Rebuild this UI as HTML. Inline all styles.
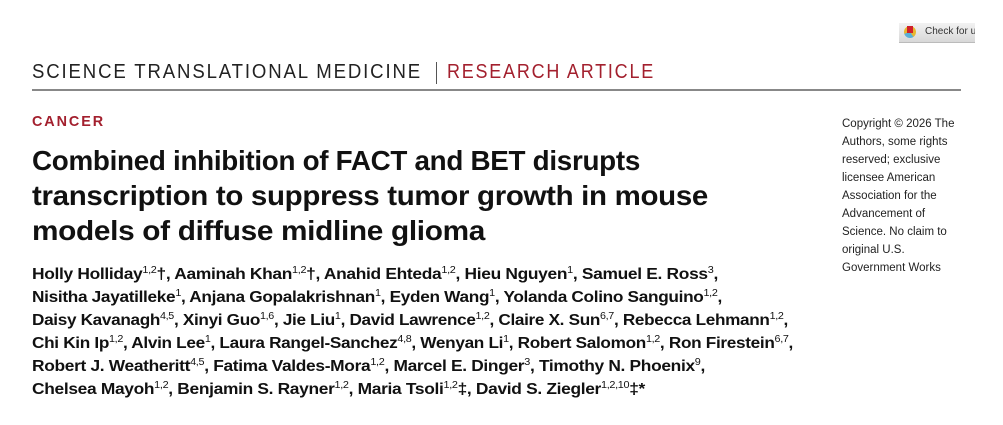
<!DOCTYPE html>
<html><head><meta charset="utf-8">
<style>
html,body{margin:0;padding:0;background:#fff;}
body{width:1003px;height:425px;position:relative;overflow:hidden;font-family:"Liberation Sans",sans-serif;color:#111;}
.ln{position:absolute;white-space:nowrap;transform-origin:0 0;}
.hdr{font-size:20px;letter-spacing:2px;color:#222;}
.red{color:#a3202e;}
.title{font-size:28px;font-weight:bold;letter-spacing:-0.3px;}
.auth{font-size:16px;font-weight:bold;letter-spacing:-0.3px;}
.auth sup{font-size:10px;font-weight:normal;vertical-align:0;position:relative;top:-6px;}
.copy{font-size:11.5px;color:#222;}
</style></head><body>
<div style="position:absolute;left:899px;top:23px;width:76px;height:19px;background:linear-gradient(#f2f2f2,#d8d8d8);border-bottom:1px solid #bbb;">
  <div style="position:absolute;left:5px;top:3px;width:12px;height:12px;border-radius:50%;background:conic-gradient(#e8b730 0 40%,#5ab0d8 40% 70%,#e8b730 70%);"></div>
  <div style="position:absolute;left:8px;top:3px;width:6px;height:7px;background:#d0202a;"></div>
  <span style="position:absolute;left:26px;top:3px;font-size:10px;color:#333;white-space:nowrap;">Check for updates</span>
</div>
<div style="position:absolute;left:975px;top:20px;width:28px;height:25px;background:#fff;"></div>

<div class="ln hdr" data-w="390" style="left:32px;top:61px;">SCIENCE TRANSLATIONAL MEDICINE</div>
<div style="position:absolute;left:436px;top:62px;width:1px;height:22px;background:#555;"></div>
<div class="ln hdr red" data-w="208" style="left:447px;top:61px;">RESEARCH ARTICLE</div>
<div style="position:absolute;left:32px;top:89px;width:929px;height:2px;background:#888;"></div>

<div class="ln red" data-w="73" style="left:32px;top:113px;font-size:15px;font-weight:bold;letter-spacing:2px;">CANCER</div>

<div class="ln title" data-w="608" style="left:32px;top:145px;">Combined inhibition of FACT and BET disrupts</div>
<div class="ln title" data-w="676" style="left:32px;top:180px;">transcription to suppress tumor growth in mouse</div>
<div class="ln title" data-w="453" style="left:32px;top:215px;">models of diffuse midline glioma</div>

<div class="ln auth" data-w="686" style="left:32px;top:266px;">Holly Holliday<sup>1,2</sup>†, Aaminah Khan<sup>1,2</sup>†, Anahid Ehteda<sup>1,2</sup>, Hieu Nguyen<sup>1</sup>, Samuel E. Ross<sup>3</sup>,</div>
<div class="ln auth" data-w="690" style="left:32px;top:289px;">Nisitha Jayatilleke<sup>1</sup>, Anjana Gopalakrishnan<sup>1</sup>, Eyden Wang<sup>1</sup>, Yolanda Colino Sanguino<sup>1,2</sup>,</div>
<div class="ln auth" data-w="756" style="left:32px;top:312px;">Daisy Kavanagh<sup>4,5</sup>, Xinyi Guo<sup>1,6</sup>, Jie Liu<sup>1</sup>, David Lawrence<sup>1,2</sup>, Claire X. Sun<sup>6,7</sup>, Rebecca Lehmann<sup>1,2</sup>,</div>
<div class="ln auth" data-w="761" style="left:32px;top:335px;">Chi Kin Ip<sup>1,2</sup>, Alvin Lee<sup>1</sup>, Laura Rangel-Sanchez<sup>4,8</sup>, Wenyan Li<sup>1</sup>, Robert Salomon<sup>1,2</sup>, Ron Firestein<sup>6,7</sup>,</div>
<div class="ln auth" data-w="673" style="left:32px;top:358px;">Robert J. Weatheritt<sup>4,5</sup>, Fatima Valdes-Mora<sup>1,2</sup>, Marcel E. Dinger<sup>3</sup>, Timothy N. Phoenix<sup>9</sup>,</div>
<div class="ln auth" data-w="613" style="left:32px;top:381px;">Chelsea Mayoh<sup>1,2</sup>, Benjamin S. Rayner<sup>1,2</sup>, Maria Tsoli<sup>1,2</sup>‡, David S. Ziegler<sup>1,2,10</sup>‡*</div>

<div class="ln copy" style="left:842px;top:118px;">Copyright © 2026 The</div>
<div class="ln copy" style="left:842px;top:136px;">Authors, some rights</div>
<div class="ln copy" style="left:842px;top:154px;">reserved; exclusive</div>
<div class="ln copy" style="left:842px;top:172px;">licensee American</div>
<div class="ln copy" style="left:842px;top:190px;">Association for the</div>
<div class="ln copy" style="left:842px;top:208px;">Advancement of</div>
<div class="ln copy" style="left:842px;top:226px;">Science. No claim to</div>
<div class="ln copy" style="left:842px;top:244px;">original U.S.</div>
<div class="ln copy" style="left:842px;top:262px;">Government Works</div>

<script>
document.querySelectorAll('[data-w]').forEach(function(el){
  var w=el.getBoundingClientRect().width;
  var t=parseFloat(el.getAttribute('data-w'));
  if(w>0) el.style.transform='scaleX('+(t/w)+')';
});
</script>
</body></html>
